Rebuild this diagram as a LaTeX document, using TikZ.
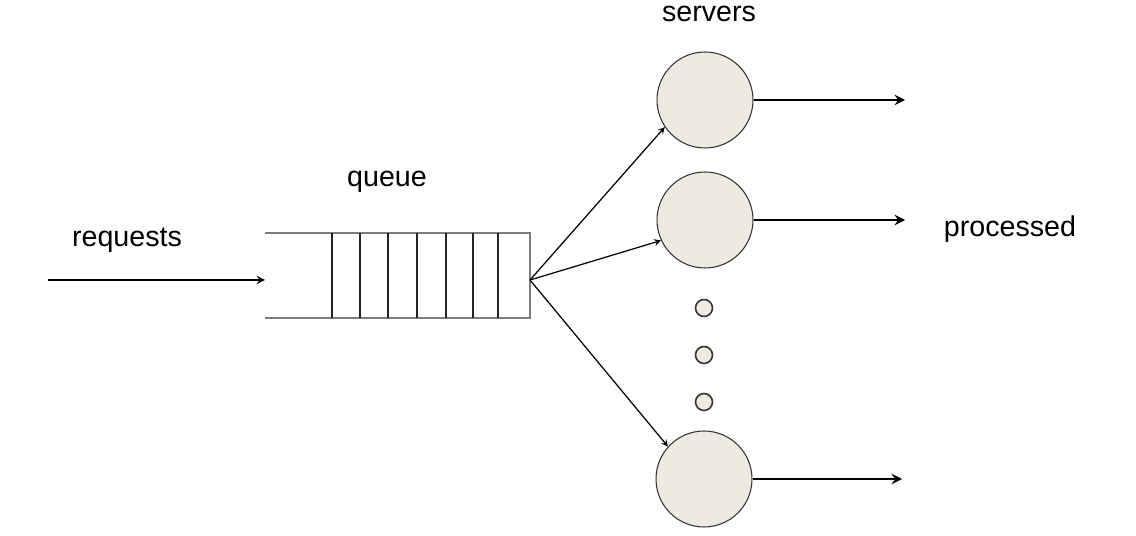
\documentclass[tikz,border=0pt]{standalone}
\usepackage{fontspec}
\setmainfont{Liberation Sans}
\usepackage{tikz}
\usetikzlibrary{arrows,positioning,calc}
\definecolor{servfill}{RGB}{236,234,225}
\definecolor{qgray}{RGB}{125,125,125}

\begin{document}
\begin{tikzpicture}[
    x=0.02cm, y=-0.02cm,
    server/.style={circle, draw=black!80, fill=servfill, minimum size=1.92cm, inner sep=0pt, line width=0.6pt},
    dotnode/.style={circle, draw=black!80, fill=servfill, minimum size=0.34cm, inner sep=0pt, line width=0.9pt},
    lbl/.style={font=\fontsize{16.3}{19}\selectfont, anchor=base, inner sep=0pt},
    arrow/.style={->, >=stealth, line width=0.7pt},
    inarrow/.style={->, >=stealth, line width=1.1pt},
    outarrow/.style={->, >=stealth, line width=1.6pt}
]
    \useasboundingbox (0,0) rectangle (1136,536);

    \node[server] (s1) at (705,100) {};
    \node[server] (s2) at (705,220) {};
    \node[server] (s3) at (704,479) {};
    \node[dotnode] (d1) at (704,308) {};
    \node[dotnode] (d2) at (704,355) {};
    \node[dotnode] (d3) at (704,402) {};

    \coordinate (src) at (48,280);
    \coordinate (qin) at (265,280);
    \coordinate (qout) at (530,280);
    \coordinate (o1) at (905,100);
    \coordinate (o2) at (905,220);
    \coordinate (o3) at (902,479);

    \draw[qgray, line width=1.1pt] (265,233) -- (530,233) -- (530,318) -- (265,318);
    \foreach \x in {332,360,388,417,446,473,498}
        \draw[black!85, line width=0.8pt] (\x,233) -- (\x,318);

    \node[lbl] (reqlbl) at (127,247) {requests};
    \node[lbl] (qlbl) at (387,187) {queue};
    \node[lbl] (srvlbl) at (709,22) {servers};
    \node[lbl] (proclbl) at (1010,237) {processed};

    \draw[inarrow] (src) -- (qin);
    \draw[arrow] (qout) -- (s1.214);
    \draw[arrow] (qout) -- (s2.205);
    \draw[arrow] (qout) -- (s3.138);
    \draw[outarrow] (s1.east) -- (o1);
    \draw[outarrow] (s2.east) -- (o2);
    \draw[outarrow] (s3.east) -- (o3);
\end{tikzpicture}
\end{document}
